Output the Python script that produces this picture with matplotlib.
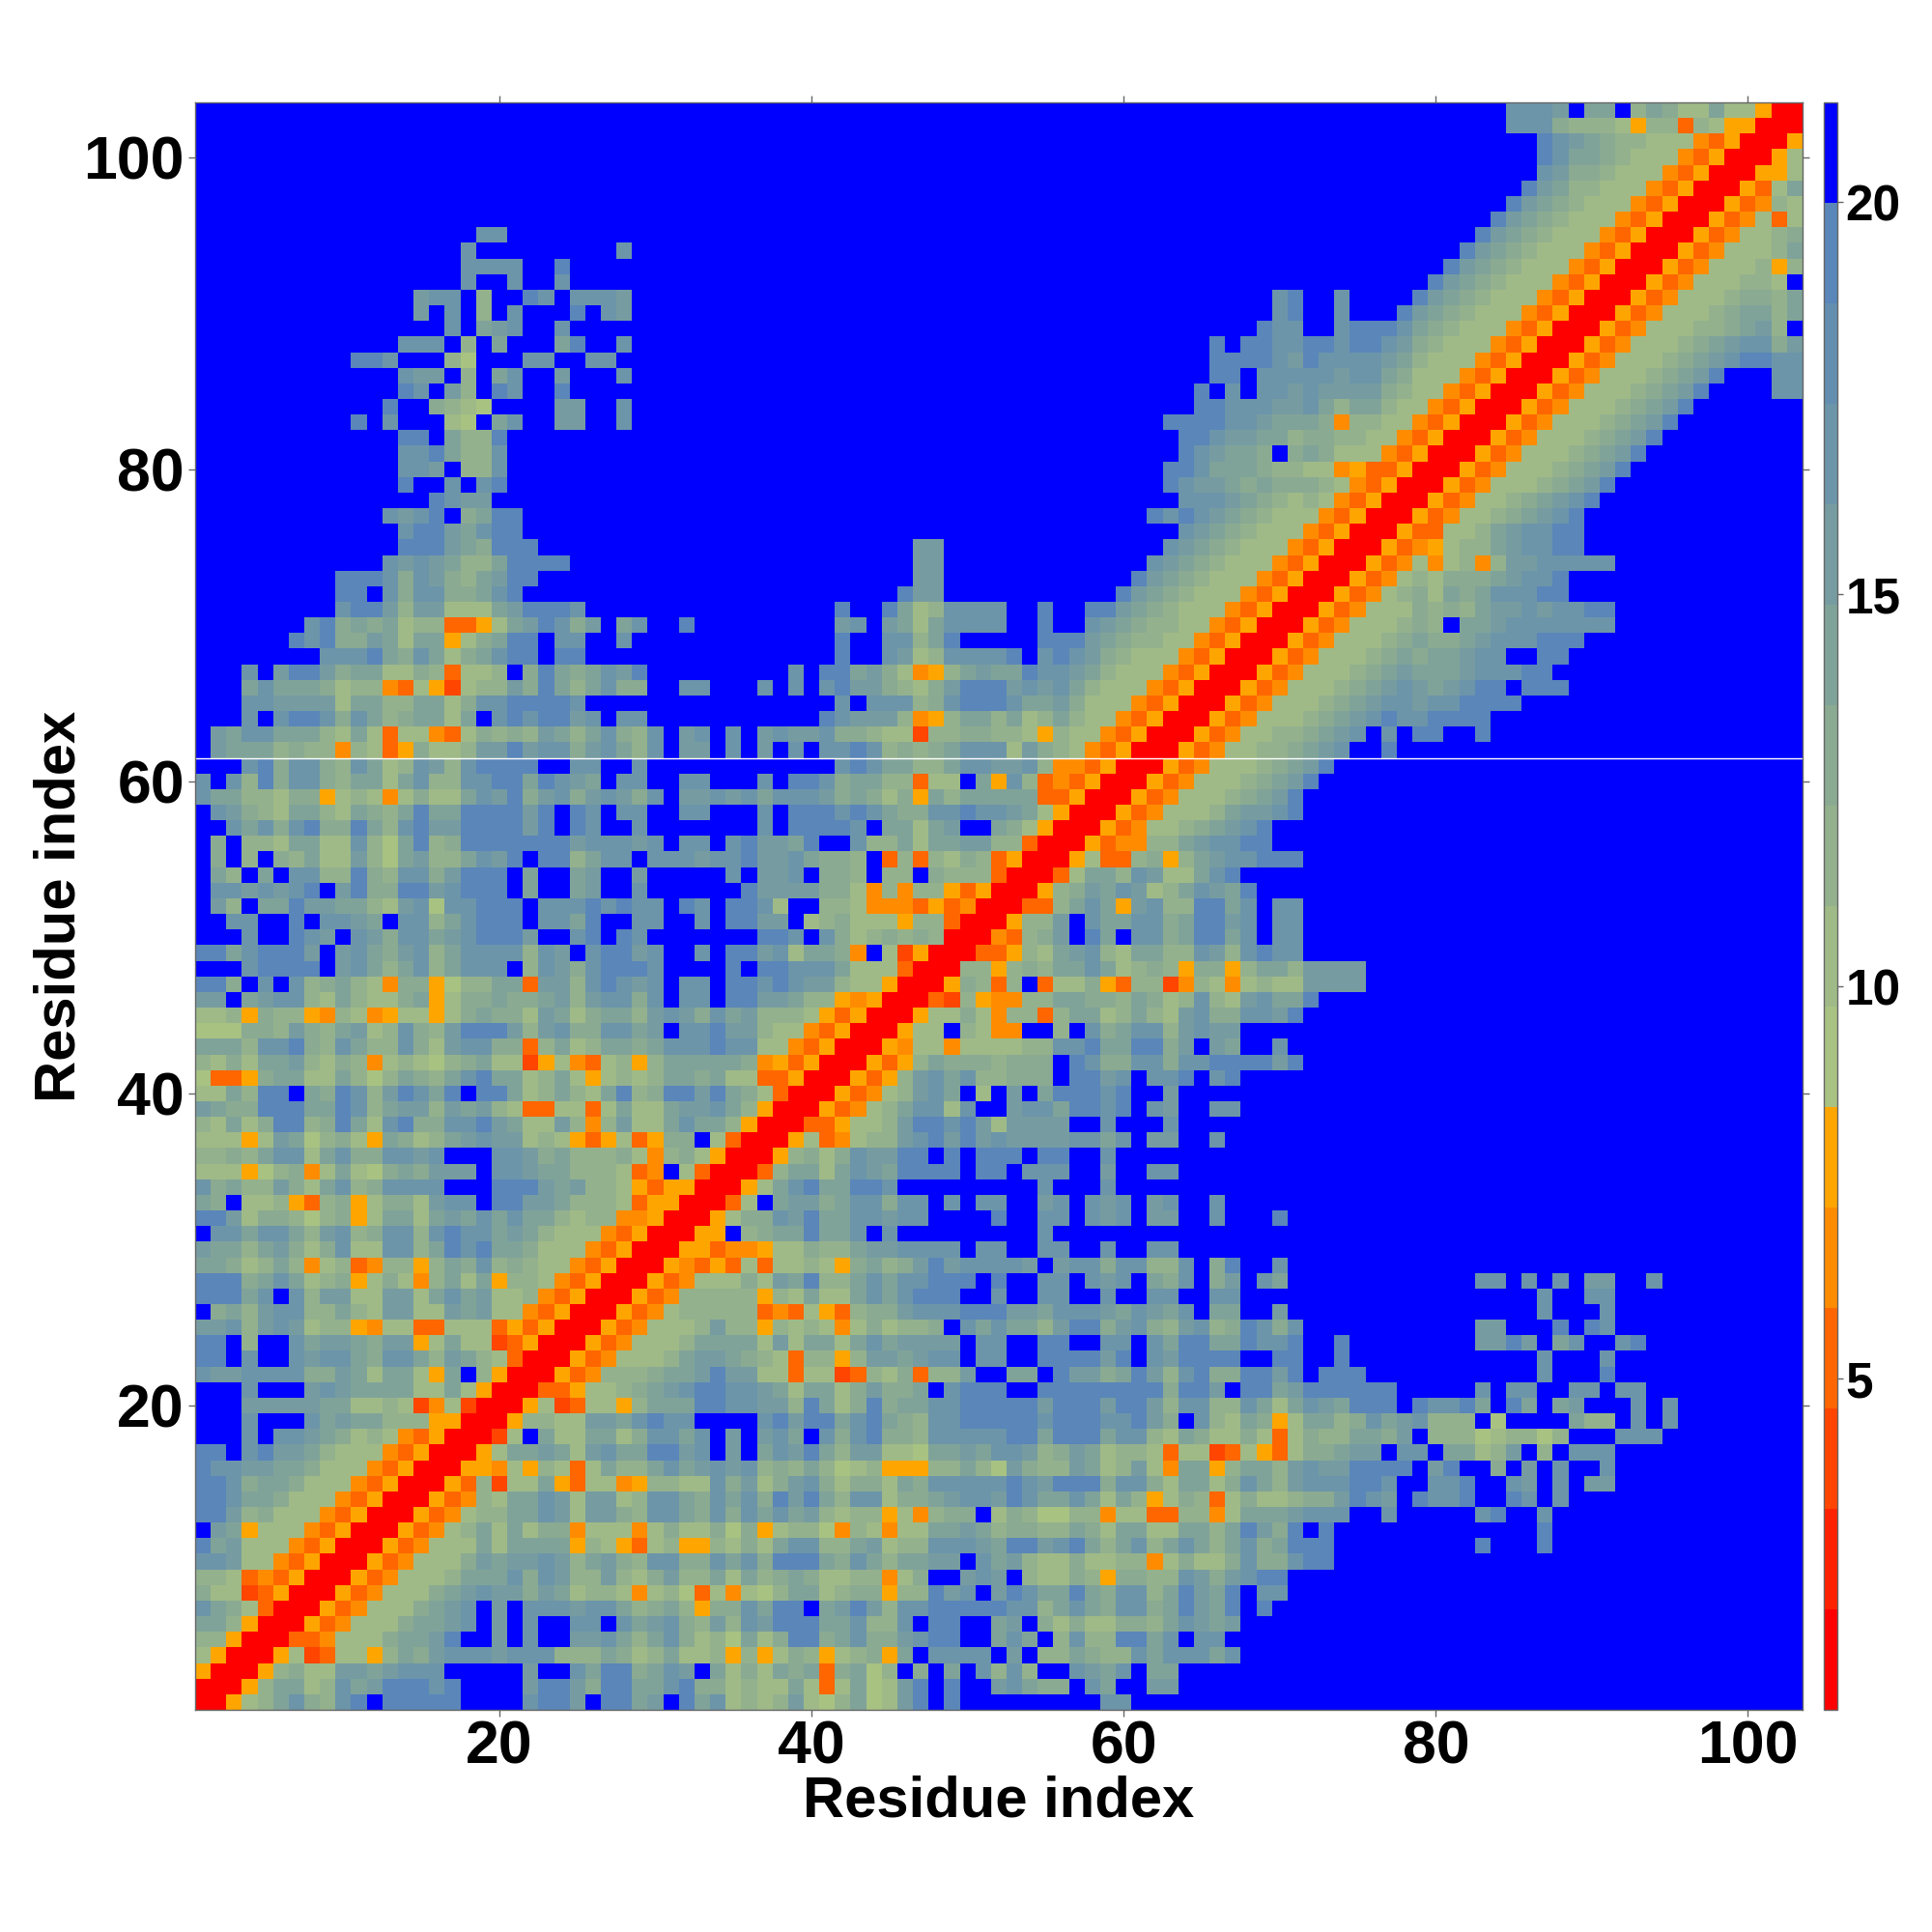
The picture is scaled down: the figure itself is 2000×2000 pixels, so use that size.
import numpy as np
import matplotlib
matplotlib.use("Agg")
import matplotlib.pyplot as plt
from matplotlib.colors import ListedColormap, BoundaryNorm

plt.rcParams['font.family'] = ['Liberation Sans', 'DejaVu Sans']
plt.rcParams['font.weight'] = 'bold'

N = 103
X_TICKS = [20, 40, 60, 80, 100]
Y_TICKS = [20, 40, 60, 80, 100]
CBAR_TICKS = [5, 10, 15, 20]
AXIS_LABEL = "Residue index"
LEVEL_COLORS = ['#ff0000', '#ff2200', '#ff4500', '#ff6600', '#ff8c00', '#ffa500',
                '#a8c282', '#9fba87', '#94b18d', '#8aaa92', '#80a399', '#769ca1',
                '#6c95a9', '#638eb0', '#5a86b9', '#0000ff']
LEVEL_BOTTOM = 0.776
LEVEL_STEP = 1.281
SYMBOL_LEVEL = {'0': 0, '1': 1, '2': 2, '3': 3, '4': 4, '5': 5, '6': 6, '7': 7, '8': 8, '9': 9,
                'a': 10, 'b': 11, 'c': 12, 'd': 14, 'f': 15}

# Contact-distance bins, symmetric matrix; each string is one row, starting at column = row,
# or at the column given by the name. Missing trailing cells are the top bin.
ROWS_1_26_FROM_DIAG = [
    "00578ac98cdfdddddffffcddbf", "0058aa78cabdddcdffffbddb9", "0058977bbabcccfffffbffca",
    "0057237758a9bcccbccc888", "003347779aabdffbfcffbb", "005347779aabcfbfcffcc",
    "005347779abcfbfcccbc", "005347779abcbb9ba78", "005347778aaac9cb88", "005347779babbcb8a",
    "00534777a7aaaa58", "0053478a7a79947", "00534788aacb7b", "0053487aacb7b", "00538277a537",
    "00554758737", "0057aaba7b", "0027fa77a", "0058877b", "0057237", "003357", "00534", "0053",
    "005", "00", "0",
]
ROWS_1_26_COL27 = [
    "ddabfdac7878b768a67bdfdfff", "ddaacd997877a737a67bdfdffb", "dd9acbfa797a9a39a68f9fafc8",
    "a978a77858579857895afccccf", "ca8ac9786a79dd9ac99bcddffa", "fcabc98b8cbdddaac88cfddffa",
    "ca89a8599caddfabdb8ccddddd", "874786374768aa7899588dbcfb", "b879b88a7a89a97788479ffbcb",
    "b98cc99cac9ddda9ca8aabbfca", "75378558797acc88ab788cccba", "774797796957886487477aaba8",
    "b98cca9c9cacab8788574899f7", "b78cca9cac9dbda8cc799abccb", "7458877c9b79bc97997a9ccccc",
    "a88acabcbc898a867855588a86", "caaddbcfbfacbda8bb776aabac", "a79ccacfbfbcafc9cd998ccccc",
    "bacdccffffcdbddacda98ccddd", "758aaaddccbb8da79d9aaccddd", "789abcddccba7aa79b99afcddd",
    "8889aabdbb7737723879388bff", "47778abba98738858bbabccfcc", "347778aaaa7b7aa7acabbbbfcc",
    "5347778b88587874797889fcac", "0534788888343753899bcccddd",
]
ROWS_1_26_COL53 = [
    "ffffffcc", "ca99fcaffbb", "c8ffcbacfaa", "bf88a988cacccac", "caf8c88ddacfcc",
    "bf97977998acbab", "cc8aca9cc9adbadfd", "dcaada9cc8adbadfcc", "f8779859988cb9bcdd",
    "b87797788479779c99cdd", "ddbcda8ac8aca8ac9addd", "9988a97aa77aa8adb9dfd",
    "986688477338847aaabcccffcf", "dcaaca7a8579837977899bdcbf", "dcbddd9cc97aa79ca8bcccddcf",
    "b988ba78b74aa58aa8bcbbdddd", "cb89ba788737723753799abbfc", "ddadddacc87a9779737988aa9b",
    "ddcdddccdb9fc87a957aa89cab", "ddbdddbddb8cc88ca7acbadddf", "ffdddddddd9ddbfddabddddddf",
    "aafdbb9adb8cd99ddbdfdddfff", "ffddddbdfcbddddffddffdffff", "ffddffccfcaddaadccdffdffff",
    "aa8bdd9bc98bc89dc9c", "bbacccbacbacfaaffb",
]
ROWS_11_28_COL79 = [
    "ffffdfffd", "ffffffffd", "ffffcdffc", "dccdffdcfc", "fccdffcbfcfbb", "fbdff9fbfcffc",
    "cfaa78bf8fccc", "f888678868fffccc", "c888f6ffffa88fcfc", "dccdafdafabfffcfc",
    "ffffcfccffccfcc", "ffffffffcfffd", "ffffffffcfffc", "ffffbbdbfacffcd", "ffffbbfffdfdc",
    "ffffffffcfffc", "ffffffffcffcc", "ffffccfcfcfbbffc",
]
ROWS_27_52_FROM_DIAG = [
    "0053488888587a77acacdddffc", "0053477797bad88acaccdddfd", "005435373778759a89bdbccc",
    "0055344577988abbccccfcc", "0055f89aadaacfcfffffff", "005799cbdaaccbccffffd",
    "0037fabb9acc9ccfcfcc", "0057acdaaddcfffffff", "0038aa7acbaddddfdd", "0058979cbbddfdfdd",
    "005734788bcdbdbc", "00335778bddcdb7", "0053478acc7cff", "0053478bcaf7f", "005358bcac88",
    "005358a9998", "0054774777", "00577f874", "00577974", "0032854", "005983", "00885", "0033",
    "004", "00", "0",
]
ROWS_27_52_COL53 = [
    "ffccffcffccffcc", "ffccfcbcfa9cf9bfca", "cbfbcc9cc88cf9dffc", "ffccffcffcc", "ffc",
    "ffccfcbcfbbffcfffd", "ffbcfcbcfbcffc", "ffcfffc", "fcccffbffcc", "dfddffc",
    "bbbbccacfbbffc", "bbbbffcfffc", "bccaddcdfcbffcc", "bfadddcdffb", "999fddbcfccdfcd",
    "999fdc99cc9ccddddbd", "788ccdaadd9bfbaffc", "4ff8fc9acc8bcbb", "8838aa78a87bc99ccbd",
    "488aa998a978c87bcaad", "8f37795388248747877bbbb", "898aaca789859958aa8bbbb",
    "587abc87aa88cb8cdcc", "389bfdafcc9addacfcc", "588bfcaacc9addbcfcc", "0338aca5bc88ddacfcc",
]
ROWS_53_103_FROM_DIAG = [
    "00589bacb78acbad", "0037aa8cb77acd", "0057338958abccddd", "00534488abccdd",
    "005347789abcd", "005347778abbcd", "0053477789abd", "0053477789abd",
    "0053477789abd", "0053477889abcffd", "0053477889abcfcfddffd",
    "0053477789abcdccdddd", "0053477789abccbccdddd", "0053477789abcbabcddfddd",
    "0053477789abaaabcccdd", "0053477789a9aabccffdd", "0053477789a99abcccddd",
    "00534777898faabccccccc", "005347779898abbcbccdd", "005347897a9acccdd",
    "00534787999abccd", "00534747848bbccccc", "005345788abccdd", "00533778abccdd",
    "005347789abcd", "005347789abcd", "0053477789abd", "0053477789abd", "0053477789abd",
    "0053477789abd", "0053477789abd", "0053477789abd", "0053477789abdffffcc",
    "0053477789abdfffcc", "0053477789abcddcc", "0053477789abcc9b", "00534777889ab8f",
    "0053477789aa8a", "005347778998a", "00534777887f",
    "00534777858", "005347778a", "005347789", "00534737", "0053487", "00537a", "00557", "0057",
    "005", "00", "0",
]

level = np.full((N, N), 15, dtype=int)


def put(r, c, text):
    for i, ch in enumerate(text):
        if c + i <= N:
            a, b = r - 1, c - 1 + i
            level[a, b] = level[b, a] = SYMBOL_LEVEL[ch]


for i, s in enumerate(ROWS_1_26_FROM_DIAG):
    put(1 + i, 1 + i, s)
for i, s in enumerate(ROWS_1_26_COL27):
    put(1 + i, 27, s)
for i, s in enumerate(ROWS_1_26_COL53):
    put(1 + i, 53, s)
for i, s in enumerate(ROWS_11_28_COL79):
    put(11 + i, 79, s)
for i, s in enumerate(ROWS_27_52_FROM_DIAG):
    put(27 + i, 27 + i, s)
for i, s in enumerate(ROWS_27_52_COL53):
    put(27 + i, 53, s)
for i, s in enumerate(ROWS_53_103_FROM_DIAG):
    put(53 + i, 53 + i, s)

distance = LEVEL_BOTTOM + LEVEL_STEP * (level + 0.5)
bounds = LEVEL_BOTTOM + LEVEL_STEP * np.arange(len(LEVEL_COLORS) + 1)
cmap = ListedColormap(LEVEL_COLORS)
norm = BoundaryNorm(bounds, cmap.N)

GREY = '#666666'
fig = plt.figure(figsize=(20, 20), dpi=100, facecolor='white')
ax = fig.add_axes([202 / 2000, 230 / 2000, 1664 / 2000, 1664 / 2000])
cax = fig.add_axes([1888 / 2000, 230 / 2000, 14 / 2000, 1664 / 2000])

im = ax.imshow(distance, origin='lower', cmap=cmap, norm=norm, interpolation='nearest',
               extent=(0.5, N + 0.5, 0.5, N + 0.5), aspect='auto')
ax.axhline(61.5, color='white', lw=1.0)

ax.set_xticks(X_TICKS)
ax.set_yticks(Y_TICKS)
ax.tick_params(axis='both', which='major', direction='out', length=5, width=1, color=GREY,
               labelsize=45, top=True, right=True)
ax.tick_params(axis='x', pad=2)
ax.tick_params(axis='y', pad=3)
for s in ax.spines.values():
    s.set_color(GREY)
    s.set_linewidth(1)
ax.set_xlabel(AXIS_LABEL, fontsize=43, fontweight='bold')
ax.set_ylabel(AXIS_LABEL, fontsize=43, fontweight='bold')
ax.xaxis.set_label_coords(0.5, -0.0403)
ax.yaxis.set_label_coords(-0.0677, 0.5)

cb = fig.colorbar(im, cax=cax, ticks=CBAR_TICKS, spacing='proportional', drawedges=False)
cb.ax.tick_params(length=4, width=1, color=GREY, labelsize=37, pad=2)
cb.outline.set_edgecolor(GREY)
cb.outline.set_linewidth(1)
cb.ax.minorticks_off()
for t in cb.ax.get_yticklabels():
    t.set_fontweight('bold')

fig.savefig('out.png', dpi=100, facecolor='white')
